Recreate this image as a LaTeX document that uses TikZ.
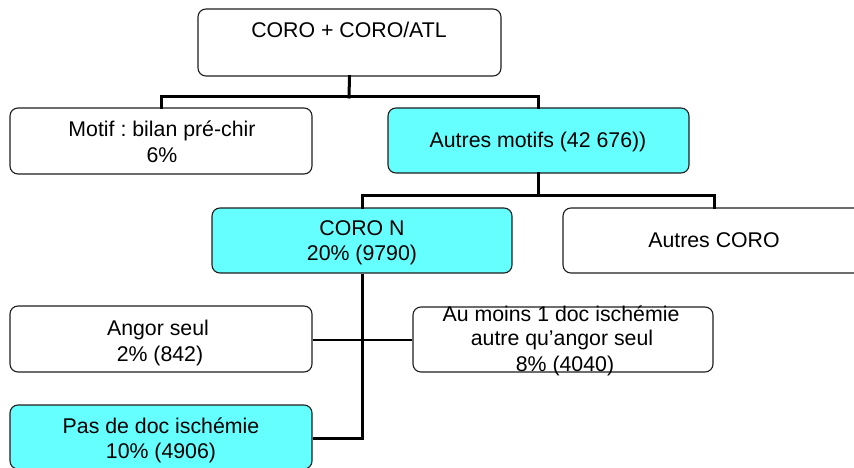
\documentclass[tikz,border=0pt]{standalone}
\usepackage{fontspec}
\setmainfont{Liberation Sans}
\frenchspacing
\definecolor{cyanbox}{RGB}{102,255,255}
\definecolor{boxline}{RGB}{30,30,30}
\tikzset{
  box/.style={draw=boxline, line width=1.1pt, rounded corners=8pt, fill=white,
    inner sep=0pt, minimum width=302pt, minimum height=66pt, anchor=center},
  hibox/.style={box, fill=cyanbox},
  txt/.style={anchor=base, inner sep=0pt, font=\fontsize{21.3}{25}\selectfont},
  conn/.style={line width=3pt, line cap=rect, draw=black},
  connthin/.style={line width=2.5pt, draw=black}
}
\begin{document}
\begin{tikzpicture}[x=1pt,y=-1pt]
\useasboundingbox (0,0) rectangle (854,468);
% boxes
\node[box, minimum width=303pt, minimum height=67pt] (top) at (349.5,42.5) {};
\node[box] (motif) at (161,141) {};
\node[hibox, minimum width=301pt, minimum height=65pt] (autres) at (538.5,140.5) {};
\node[hibox, minimum width=300pt, minimum height=65pt] (coron) at (362,240.5) {};
\node[box, minimum height=65pt] (autrescoro) at (714,240.5) {};
\node[box] (angor) at (161,339) {};
\node[box, minimum width=300pt, minimum height=65pt] (aumoins) at (563,339.5) {};
\node[hibox, minimum height=64pt] (pasdoc) at (161,437) {};
% junction coordinates
\coordinate (j1) at (349,97);
\coordinate (j2) at (538.5,195);
% connectors
\draw[conn] (top.south) -- (j1);
\draw[conn] (motif.north) -- (motif.north |- j1) -- (autres.north |- j1) -- (autres.north);
\draw[conn] (autres.south) -- (j2);
\draw[conn] (coron.north) -- (coron.north |- j2) -- (autrescoro.north |- j2) -- (autrescoro.north);
\draw[conn, line cap=butt] (pasdoc.east |- 0,438) -| (coron.south);
\draw[connthin] (angor.east |- 0,340) -- (aumoins.west |- 0,340);
% texts
\node[txt] (t1) at (349,38) {CORO + CORO/ATL};
\node[txt] (t2a) at (162,137) {Motif : bilan pré-chir};
\node[txt] (t2b) at (162,162) {6\%};
\node[txt] (t3) at (538,148) {Autres motifs (42 676))};
\node[txt] (t4a) at (362,235) {CORO N};
\node[txt] (t4b) at (362,260) {20\% (9790)};
\node[txt] (t5) at (714,247) {Autres CORO};
\node[txt] (t6a) at (158,335) {Angor seul};
\node[txt] (t6b) at (160,361) {2\% (842)};
\node[txt] (t7a) at (561,321) {Au moins 1 doc ischémie};
\node[txt] (t7b) at (562,345) {autre qu’angor seul};
\node[txt] (t7c) at (565,371) {8\% (4040)};
\node[txt] (t8a) at (161,433) {Pas de doc ischémie};
\node[txt] (t8b) at (161,458) {10\% (4906)};
\end{tikzpicture}
\end{document}
